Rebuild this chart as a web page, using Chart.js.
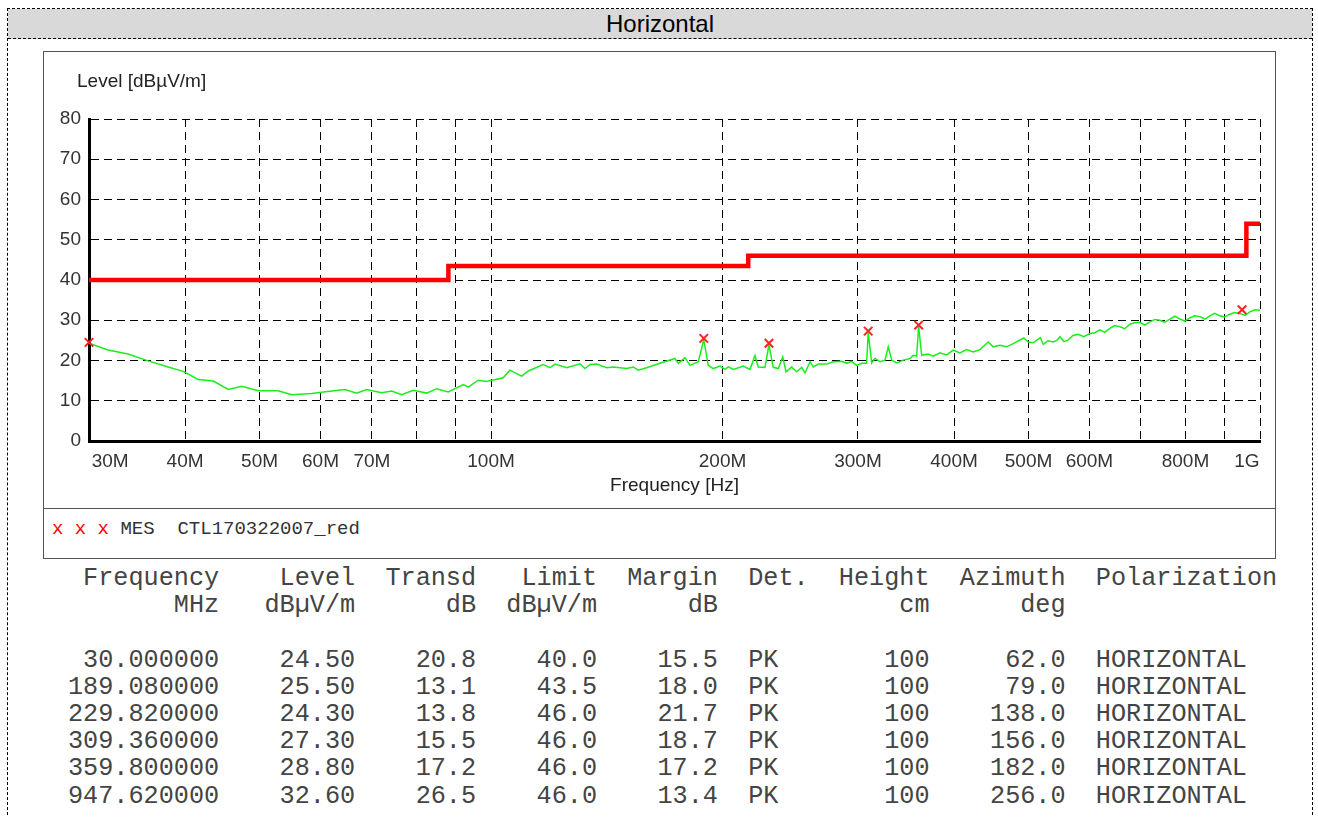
<!DOCTYPE html>
<html>
<head>
<meta charset="utf-8">
<script src="https://cdn.jsdelivr.net/npm/chart.js@4.4.1/dist/chart.umd.min.js"></script>
<style>
  body { margin: 0; width: 1318px; height: 817px; overflow: hidden; background: #fff; position: relative; font-family: "Liberation Sans", Arial, sans-serif; }
  #outer { position: absolute; left: 7px; top: 8px; width: 1304px; height: 840px; border: 1px dashed #000; }
  #titlebar { position: absolute; left: 8px; top: 9px; width: 1304px; height: 29px; background: #d9d9d9; border-bottom: 1px dashed #000;
              text-align: center; font-size: 24px; line-height: 29px; color: #000; }
  #box { position: absolute; left: 43px; top: 51px; width: 1231px; height: 506px; border: 1px solid #555; }
  #sep { position: absolute; left: 43px; top: 508px; width: 1232px; height: 0; border-top: 1px solid #555; }
  #chart-wrap { position: absolute; left: 44px; top: 52px; width: 1230px; height: 455px; }
  #ytitle { position: absolute; left: 77px; top: 70px; font-size: 19px; color: #222; }
  #legend { position: absolute; left: 52px; top: 518px; font-family: "Liberation Mono", "Courier New", monospace; font-size: 19px; color: #333; white-space: pre; }
  #legend .mk { color: #f00; }
  #table { position: absolute; left: 68px; top: 565px; margin: 0; font-family: "Liberation Mono", "Courier New", monospace;
           font-size: 25.2px; line-height: 27.2px; color: #444; }
</style>
</head>
<body>
<div id="outer"></div>
<div id="titlebar">Horizontal</div>
<div id="box"></div>
<div id="sep"></div>
<div id="chart-wrap"><canvas id="emi-chart" width="1230" height="455"></canvas></div>
<div id="ytitle">Level [dBµV/m]</div>
<div id="legend"><span class="mk">x x x</span> MES  CTL170322007_red</div>
<pre id="table"></pre>

<script>
// --- DATA ---
// measured trace (MHz / dBuV/m), read off the picture
const traceFreq = [30.0, 31.76, 33.72, 35.80, 38.03, 39.78, 41.61, 43.52, 45.52, 47.39, 49.80, 52.87, 55.04, 58.46, 60.53,
  64.56, 66.86, 68.89, 72.06, 74.25, 76.51, 79.21, 82.46, 84.96, 87.96, 92.01, 93.39, 96.23, 98.68,
  103.7, 105.8, 109.6, 111.8, 116.9, 119.3, 121.1, 125.4, 130.5, 132.5, 134.5, 137.2, 141.4, 144.2, 150.1, 153.1, 155.4, 159.3,
  165.8, 173.4, 175.2, 178.7, 181.4, 186.0, 189.08, 191.6, 194.5, 198.5, 201.5, 203.5, 206.6, 212.8, 217.1, 220.4, 222.6, 227.1,
  229.82, 232.8, 236.4, 239.5, 241.9, 246.0, 249.7, 253.5, 256.0, 259.9, 262.5, 266.4, 273.2, 278.7, 285.8, 290.1, 294.4, 298.8,
  303.4, 307.9, 309.36, 312.6, 315.7, 320.4, 325.3, 328.5, 331.9, 336.9, 343.6, 350.6, 354.0, 357.7, 359.8, 363.1, 370.3, 375.9,
  383.5, 391.3, 399.1, 407.2, 415.4, 423.7, 432.3, 443.2, 449.9, 459.0, 468.3, 477.6, 487.3, 493, 499.6, 507, 514.7, 518, 522.5,
  530, 538.4, 544, 549.3, 556, 563.1, 571, 580.2, 590, 600.9, 610, 619.1, 628, 637.9, 647, 657.4, 667, 677.3, 687, 697.9, 708,
  719.1, 730, 741.0, 752, 763.5, 775, 786.7, 798, 810.6, 822, 835.3, 848, 860.7, 873, 886.8, 900, 913.8, 927, 941.6, 956, 970.2,
  985, 1000];
const traceLevel = [24.3, 22.6, 21.6, 19.9, 18.4, 17.3, 15.3, 14.9, 12.8, 13.6, 12.5, 12.5, 11.5, 11.8, 12.2,
  12.8, 11.9, 12.8, 12.0, 12.4, 11.5, 12.6, 11.9, 13.0, 12.2, 14.0, 13.4, 15.1, 14.8,
  15.7, 17.6, 16.1, 17.4, 19.0, 18.2, 19.1, 18.2, 19.2, 18.0, 19.0, 19.1, 18.2, 18.4, 18.0, 18.4, 17.6, 18.2,
  19.3, 20.5, 19.3, 20.7, 18.8, 19.7, 25.2, 18.8, 18.0, 18.6, 17.8, 18.4, 17.8, 18.6, 17.8, 21.2, 18.4, 18.3,
  23.9, 18.3, 18.0, 20.9, 17.2, 18.4, 17.2, 18.3, 16.9, 19.7, 18.4, 19.1, 19.1, 19.7, 19.8, 19.3, 19.8, 18.8,
  19.3, 19.3, 27.0, 19.4, 20.5, 19.7, 20.1, 23.4, 20.1, 19.4, 20.1, 20.5, 21.3, 21.1, 28.5, 21.3, 21.6, 21.1,
  21.9, 21.4, 22.6, 21.9, 22.7, 22.1, 22.7, 24.6, 23.4, 23.8, 23.4, 24.2, 25.1, 25.6, 24.6, 24.4, 25.3, 25.7, 24.0,
  24.9, 24.6, 25.0, 25.9, 24.7, 25.1, 26.2, 26.5, 25.9, 26.7, 26.9, 27.6, 27.0, 28.0, 28.7, 28.4, 27.9, 29.0, 29.4, 29.5, 28.8,
  29.6, 30.2, 30.0, 29.5, 30.3, 31.0, 30.3, 29.8, 30.6, 31.1, 30.9, 30.3, 31.1, 31.7, 31.1, 30.8, 31.5, 31.9, 31.7, 31.2, 32.1,
  32.6, 32.5];

// limit line (steps)
const limitFreq = [30, 88, 216, 960, 1000];
const limitLevel = [40, 43.5, 46, 54, 54];

// final measurement points
const markFreq = [30.0, 189.08, 229.82, 309.36, 359.8, 947.62];
const markLevel = [24.5, 25.5, 24.3, 27.3, 28.8, 32.6];
const markTransd = [20.8, 13.1, 13.8, 15.5, 17.2, 26.5];
const markLimit = [40.0, 43.5, 46.0, 46.0, 46.0, 46.0];
const markMargin = [15.5, 18.0, 21.7, 18.7, 17.2, 13.4];
const markDet = ['PK', 'PK', 'PK', 'PK', 'PK', 'PK'];
const markHeight = [100, 100, 100, 100, 100, 100];
const markAzimuth = [62.0, 79.0, 138.0, 156.0, 182.0, 256.0];
const markPol = ['HORIZONTAL', 'HORIZONTAL', 'HORIZONTAL', 'HORIZONTAL', 'HORIZONTAL', 'HORIZONTAL'];

// x axis grid and labels
const xGridTicks = [30, 40, 50, 60, 70, 80, 90, 100, 200, 300, 400, 500, 600, 700, 800, 900, 1000];
const xTickLabels = { 30: '30M', 40: '40M', 50: '50M', 60: '60M', 70: '70M', 100: '100M', 200: '200M',
  300: '300M', 400: '400M', 500: '500M', 600: '600M', 800: '800M', 1000: '1G' };

// --- TABLE ---
function buildTable() {
  const p = (s, n) => String(s).padStart(n);
  const lines = [];
  lines.push(p('Frequency', 10) + p('Level', 9) + p('Transd', 8) + p('Limit', 8) + p('Margin', 8) + '  Det.' +
    p('Height', 8) + p('Azimuth', 9) + '  Polarization');
  lines.push(p('MHz', 10) + p('dBµV/m', 9) + p('dB', 8) + p('dBµV/m', 8) + p('dB', 8) + '      ' + p('cm', 8) + p('deg', 9));
  lines.push('');
  markFreq.forEach((f, i) => {
    lines.push(p(f.toFixed(6), 10) + p(markLevel[i].toFixed(2), 9) + p(markTransd[i].toFixed(1), 8) +
      p(markLimit[i].toFixed(1), 8) + p(markMargin[i].toFixed(1), 8) + '  ' + markDet[i].padEnd(4) +
      p(markHeight[i], 8) + p(markAzimuth[i].toFixed(1), 9) + '  ' + markPol[i]);
  });
  document.getElementById('table').textContent = lines.join('\n');
}

// --- CHART ---
const tickFont = { family: '"Liberation Sans", Arial, sans-serif', size: 19 };

function renderChart() {
  const ctx = document.getElementById('emi-chart');
  new Chart(ctx, {
    type: 'line',
    data: {
      datasets: [
        {
          label: 'MES',
          type: 'scatter',
          data: markFreq.map((f, i) => ({ x: f, y: markLevel[i] })),
          pointStyle: 'crossRot',
          pointRadius: 6,
          pointBorderWidth: 2,
          borderColor: '#ff2020',
          showLine: false,
          clip: false,
          order: 0
        },
        {
          label: 'Limit',
          data: limitFreq.map((f, i) => ({ x: f, y: limitLevel[i] })),
          stepped: 'before',
          borderColor: '#ff0000',
          borderWidth: 4.5,
          pointRadius: 0,
          order: 1
        },
        {
          label: 'Trace',
          data: traceFreq.map((f, i) => ({ x: f, y: traceLevel[i] })),
          borderColor: '#1aee1a',
          borderWidth: 1.5,
          pointRadius: 0,
          tension: 0,
          order: 2
        }
      ]
    },
    options: {
      responsive: false,
      animation: false,
      layout: { padding: { top: 67, right: 14, left: 0, bottom: 0 } },
      plugins: { legend: { display: false }, tooltip: { enabled: false } },
      scales: {
        x: {
          type: 'logarithmic',
          min: 30,
          max: 1000,
          afterBuildTicks: s => { s.ticks = xGridTicks.map(v => ({ value: v })); },
          afterFit: s => { s.height = 66; s.paddingLeft = 0; s.paddingRight = 0; },
          ticks: {
            autoSkip: false,
            maxRotation: 0,
            padding: 9,
            color: '#333',
            font: tickFont,
            // first label sits right of the axis, last one left of the edge
            callback: v => {
              const t = xTickLabels[v] || '';
              if (v === 30) return '        ' + t;
              if (v === 1000) return t + '     ';
              return t;
            }
          },
          grid: { color: '#000', lineWidth: 1, drawTicks: false },
          border: { display: true, color: '#000', width: 3, dash: [8, 5] },
          title: { display: true, text: 'Frequency [Hz]', color: '#222', font: tickFont, padding: { top: 0, bottom: 10 } }
        },
        y: {
          min: 0,
          max: 80,
          afterFit: s => { s.width = 45; },
          ticks: { stepSize: 10, padding: 8, color: '#333', font: tickFont },
          grid: { color: '#000', lineWidth: 1, drawTicks: false },
          border: { display: true, color: '#000', width: 3, dash: [8, 5] }
        }
      }
    }
  });
}

buildTable();
renderChart();
</script>
</body>
</html>
